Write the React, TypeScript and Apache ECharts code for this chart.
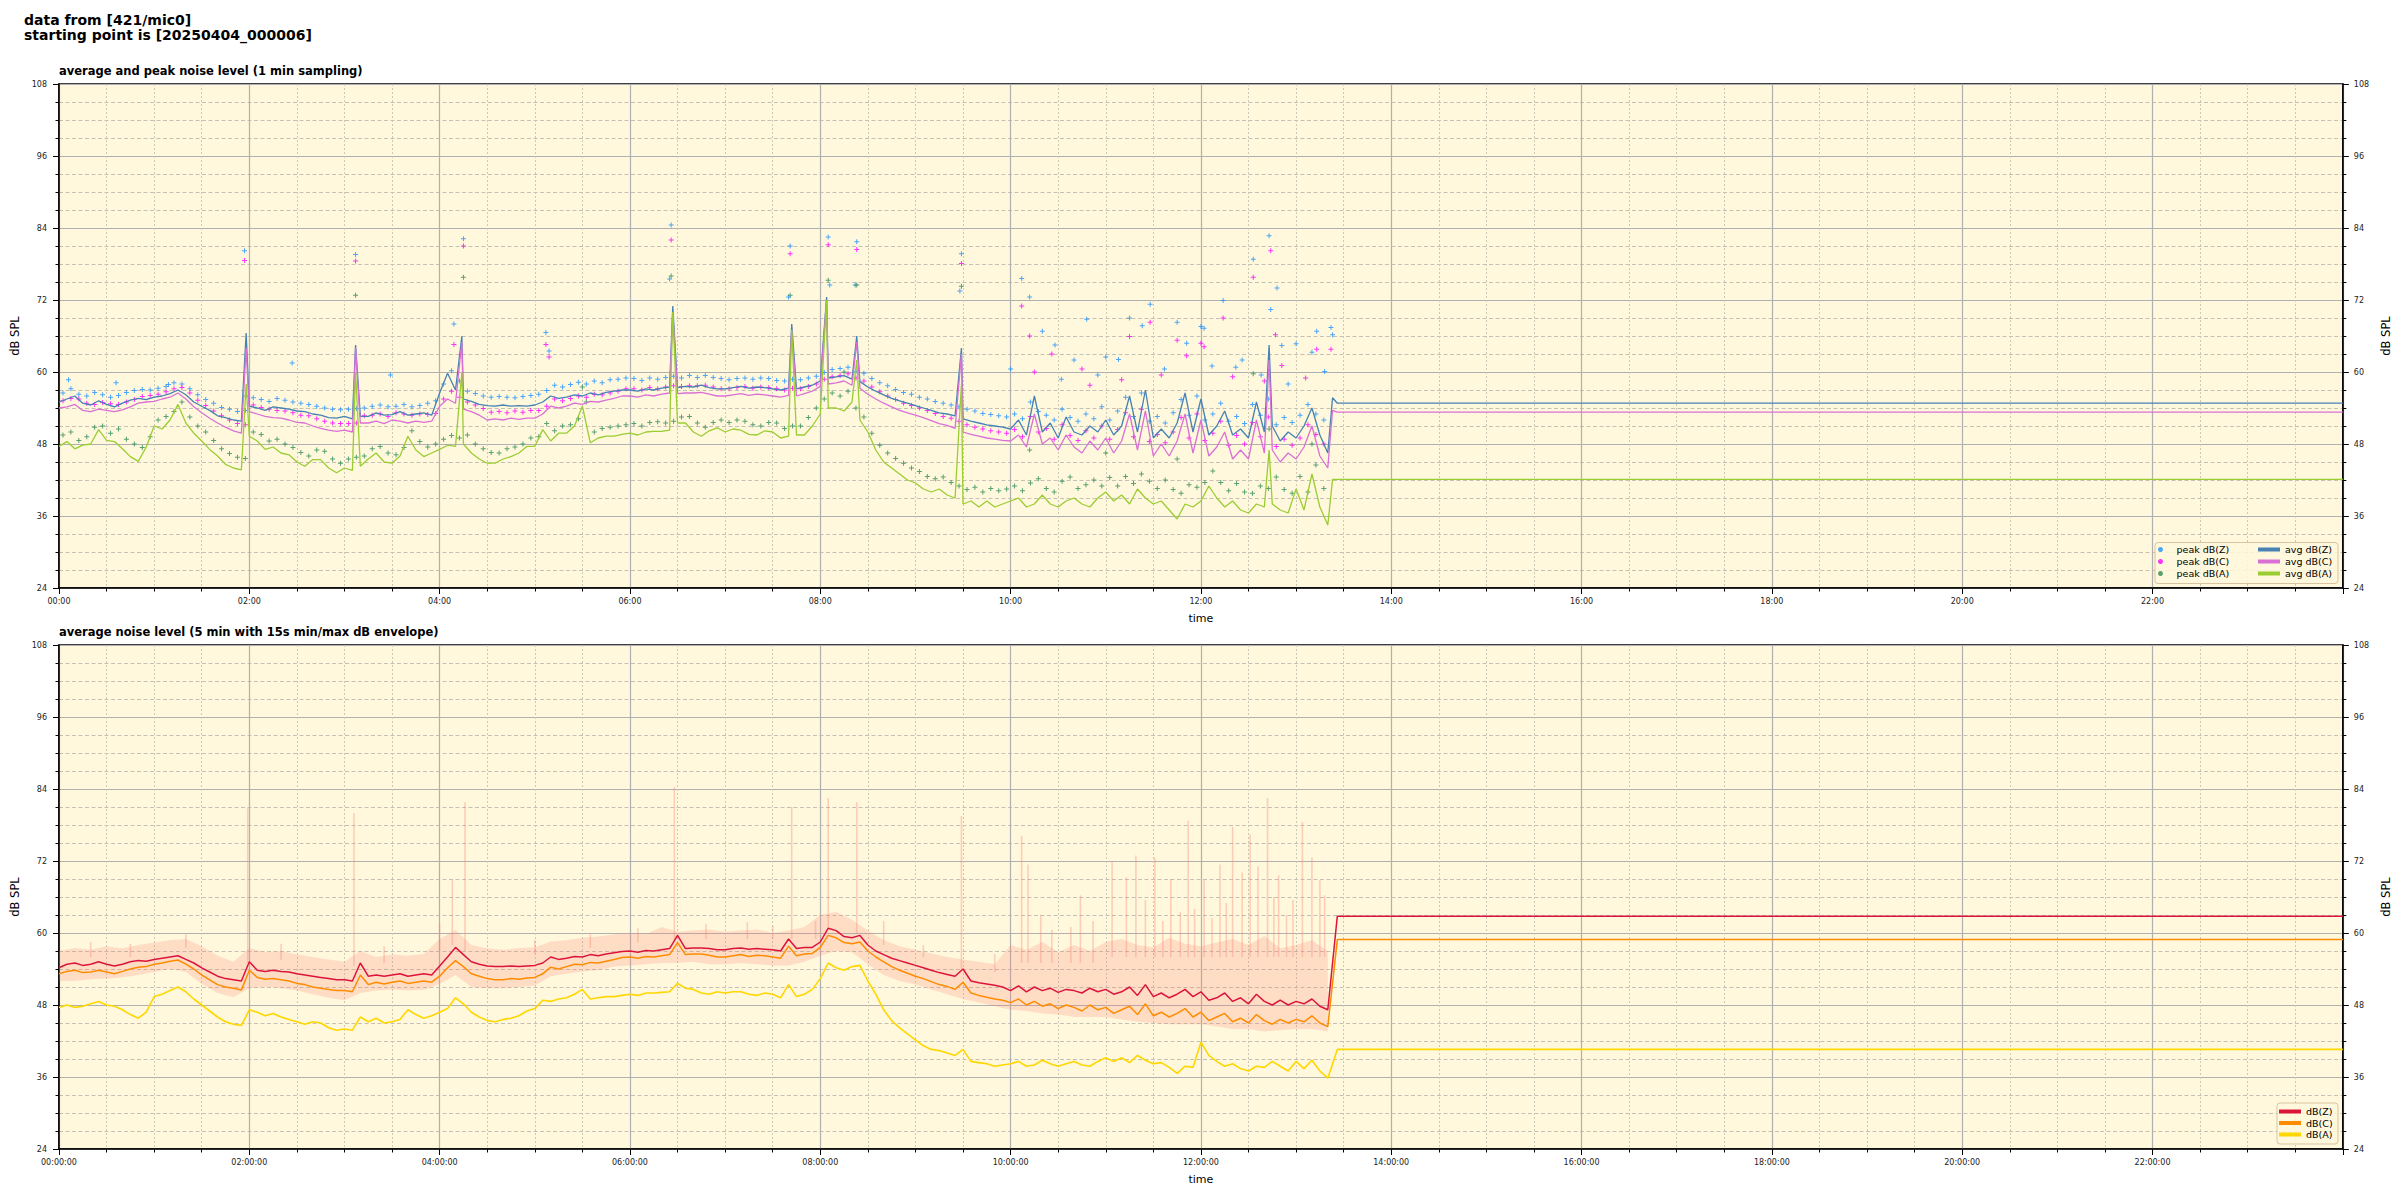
import React, { useEffect, useRef } from 'react';
import * as echarts from 'echarts';

const SUPTITLE = 'data from [421/mic0]\nstarting point is [20250404_000006]';
const TITLE_TOP = 'average and peak noise level (1 min sampling)';
const TITLE_BOTTOM = 'average noise level (5 min with 15s min/max dB envelope)';
const Y_NAME = 'dB SPL';
const X_NAME = 'time';

// sample times in minutes after midnight
const GRID_T = Array.from({ length: 161 }, (_, i) => i * 5);
const PEAK_T = Array.from({ length: 160 }, (_, i) => i * 5 + 2.5);
const ENV_T = Array.from({ length: 81 }, (_, i) => i * 10);

// ---------- top chart: 1-min averages (read at 5-min steps) ----------
const AVG_Z = [
  55.0, 55.5, 56.0, 54.8, 54.5, 55.2, 54.6, 54.2, 54.8, 55.3, 55.6, 55.4,
  55.8, 56.0, 56.4, 57.0, 56.2, 55.0, 54.3, 53.6, 52.7, 52.4, 52.0, 51.8,
  54.3, 54.0, 53.6, 54.2, 54.0, 53.8, 53.5, 53.4, 53.0, 52.8, 52.4, 52.3,
  52.6, 52.2, 52.6, 52.6, 53.2, 52.8, 52.9, 53.4, 52.8, 53.0, 53.2, 52.8,
  56.5, 59.8, 57.0, 55.5, 55.1, 54.6, 54.4, 54.3, 54.5, 54.3, 54.4, 54.3,
  54.5, 55.0, 56.0, 55.6, 55.8, 56.2, 56.0, 56.5, 56.2, 56.6, 56.8, 57.0,
  57.0, 56.8, 57.2, 57.0, 57.3, 57.5, 57.4, 57.6, 57.5, 57.8, 57.4, 57.2,
  57.2, 57.4, 57.6, 57.3, 57.5, 57.4, 57.2, 57.0, 57.3, 57.2, 57.5, 57.8,
  58.5, 59.0, 59.2, 59.4, 58.8, 58.4, 57.5, 56.8, 56.2, 55.6, 55.2, 54.8,
  54.4, 54.0, 53.6, 53.2, 53.0, 52.7, 52.2, 51.8, 51.5, 51.2, 51.0, 50.8,
  50.5, 52.0, 49.5, 56.0, 50.0, 51.5, 49.0, 52.5, 50.0, 49.5, 51.0, 50.0,
  52.0, 49.5, 51.0, 56.0, 50.0, 57.0, 49.0, 50.5, 49.0, 51.5, 56.5, 50.0,
  55.5, 49.5, 51.0, 53.5, 49.5, 50.5, 49.0, 55.0, 50.0, 51.0, 48.5, 50.0,
  49.0, 51.0, 54.0, 49.5, 46.5,
];
const AVG_C = [
  54.0, 54.2, 54.6, 53.6, 53.4, 53.8, 53.6, 53.4, 53.7, 54.2, 54.8, 55.0,
  55.1, 55.5, 55.8, 56.5, 55.5, 54.2, 53.2, 52.3, 51.5, 50.8, 50.2, 49.8,
  53.4, 53.0, 52.6, 52.4, 52.3, 52.0, 51.6, 51.5, 51.0, 50.6, 50.3, 50.1,
  50.3, 50.0, 51.5, 51.5, 51.8, 51.4, 52.0, 51.8, 51.5, 51.8, 51.6, 51.8,
  54.3, 55.5, 54.8, 53.8, 53.4, 52.8, 52.0, 52.2, 52.0, 52.3, 52.1, 52.3,
  52.3, 53.0, 54.3, 54.0, 54.3, 54.8, 54.6, 55.1, 55.0, 55.3, 55.6, 56.0,
  56.0, 55.8, 56.2, 56.0, 56.3, 56.5, 56.4, 56.5, 56.5, 56.6, 56.3, 56.0,
  56.0, 56.2, 56.4, 56.1, 56.3, 56.2, 56.0, 55.8, 56.1, 56.0, 56.4, 56.8,
  57.6, 58.0, 58.2, 58.5, 57.8, 57.3, 56.3, 55.5, 54.8, 54.2, 53.6, 53.2,
  52.8, 52.4, 51.9, 51.4, 51.1, 50.6, 50.0, 49.6, 49.3, 49.0, 48.8, 48.6,
  48.5, 49.5, 47.5, 53.0, 48.0, 49.0, 47.0, 49.5, 47.5, 46.5, 48.5, 47.0,
  49.0, 46.5, 48.5, 53.0, 47.0, 53.5, 46.0, 48.0, 46.0, 48.5, 53.0, 46.5,
  52.0, 46.0, 47.5, 50.0, 45.5, 47.0, 45.5, 52.0, 46.5, 47.0, 45.0, 46.5,
  45.5, 47.5, 51.0, 46.0, 44.0,
];
const AVG_A = [
  47.6, 48.4, 47.2, 47.8, 48.0, 50.4, 48.6, 48.4, 47.2, 45.9, 45.1, 47.5,
  51.0, 50.5, 52.0, 54.6, 51.5, 49.8, 48.5, 47.1, 46.0, 44.6, 44.0, 43.7,
  49.3, 48.5, 47.1, 47.5, 46.5, 46.2, 45.0, 44.3, 45.4, 45.4, 44.0, 43.2,
  44.0, 43.6, 44.3, 45.5, 46.5, 45.0, 44.8, 46.0, 49.3, 47.0, 45.9, 46.5,
  47.1, 47.8, 47.6, 48.0, 46.5, 45.5, 44.8, 44.8, 45.5, 45.9, 46.5, 47.6,
  47.6, 50.4, 48.5, 49.8, 49.8, 51.0, 54.3, 48.2, 49.0, 49.3, 49.3, 49.6,
  49.8, 49.5, 50.0, 50.1, 50.1, 50.3, 51.5, 51.5, 50.0, 49.3, 50.2, 50.7,
  50.0, 50.5, 50.3, 49.6, 49.5, 50.2, 50.0, 49.0, 49.3, 49.5, 49.5, 51.0,
  53.0, 54.0, 54.0, 53.5, 55.0, 52.0, 50.0, 47.0, 45.0, 44.0, 43.0, 42.0,
  41.5, 40.5, 40.0, 40.5, 39.5, 39.0, 38.0, 38.5, 37.5, 38.5, 37.5, 38.0,
  38.5, 39.0, 37.5, 38.0, 39.5, 38.0, 37.5, 38.5, 39.0, 38.0, 37.5, 39.0,
  40.0, 38.5, 39.5, 38.0, 40.5, 39.0, 38.0, 38.5, 37.0, 35.5, 38.0, 37.5,
  38.5, 41.0, 39.0, 37.5, 38.5, 37.0, 36.5, 38.0, 37.5, 38.0, 37.0, 36.5,
  40.5, 37.0, 43.0, 37.5, 34.5,
];
const SPIKE_T = [118, 187, 254, 387, 462, 484, 503, 569, 763];
const SPIKE_Z = [66.5, 64.5, 66.0, 71.0, 68.0, 72.5, 66.0, 64.0, 64.5];
const SPIKE_C = [64.0, 64.0, 65.0, 70.0, 67.0, 72.0, 65.0, 63.0, 62.0];
const SPIKE_A = [58.0, 60.0, 60.0, 70.0, 67.0, 72.0, 62.0, 58.0, 47.0];
const TAIL_T = [803, 806, 1440];
const TAIL_Z = [55.7, 54.8, 54.8];
const TAIL_C = [53.6, 53.3, 53.3];
const TAIL_A = [42.1, 42.1, 42.1];

// ---------- top chart: 1-min peaks ----------
const PEAK_Z = [
  56.5, 57.2, 56.3, 56.0, 56.6, 56.2, 55.8, 56.1, 56.6, 56.9, 57.1, 57.0,
  57.3, 57.6, 58.2, 58.0, 57.2, 56.2, 55.4, 54.8, 54.1, 53.8, 53.4, 53.6,
  55.7, 55.4, 55.1, 55.6, 55.3, 55.0, 54.8, 54.6, 54.3, 54.0, 53.8, 53.7,
  53.8, 53.9, 54.0, 54.3, 54.5, 54.2, 54.3, 54.6, 54.2, 54.4, 54.8, 55.2,
  58.0, 60.2, 58.5, 56.8, 56.4, 56.0, 55.8, 55.9, 55.8, 55.7, 55.9, 56.1,
  56.3, 56.9, 57.8, 57.5, 57.9, 58.3, 58.0, 58.5, 58.2, 58.7, 58.8, 59.0,
  58.9, 58.6, 59.0, 58.8, 59.1, 59.3, 59.0, 59.4, 59.1, 59.4, 59.1, 58.9,
  58.7, 58.9, 59.0, 58.8, 59.0, 58.9, 58.6, 58.5, 58.8, 58.7, 59.0, 59.3,
  59.9, 60.4, 60.6, 60.8, 60.1, 59.8, 58.9, 58.2, 57.7, 57.1, 56.6, 56.3,
  55.8, 55.5, 55.1, 54.8, 54.5, 54.2, 53.8, 53.5, 53.1, 52.9, 52.7, 52.5,
  53.0, 52.2, 55.0, 53.4, 52.8, 52.0, 53.8, 52.4, 51.8, 53.0, 52.2, 54.2,
  52.0, 53.5, 55.8, 52.6, 56.5, 51.8, 52.6, 51.5, 53.2, 55.4, 52.8, 56.0,
  52.0, 53.0, 54.8, 51.8, 52.6, 51.4, 54.6, 52.8, 55.5, 51.2, 52.4, 51.6,
  52.8, 54.6, 53.0, 52.0,
];
const PEAK_C = [
  55.2, 55.6, 55.5, 54.8, 54.6, 54.9, 54.7, 54.6, 55.0, 55.4, 55.9, 56.1,
  56.3, 56.7, 57.2, 57.4, 56.5, 55.3, 54.4, 53.5, 52.7, 52.0, 51.4, 51.2,
  54.5, 54.1, 53.8, 53.6, 53.5, 53.2, 52.8, 52.7, 52.2, 51.8, 51.5, 51.4,
  51.4, 51.5, 52.7, 52.8, 53.0, 52.6, 53.2, 53.0, 52.8, 53.0, 52.9, 53.1,
  55.5, 56.8, 55.8, 55.0, 54.5, 53.9, 53.3, 53.4, 53.2, 53.5, 53.3, 53.6,
  53.6, 54.3, 55.5, 55.2, 55.6, 56.0, 55.8, 56.3, 56.2, 56.5, 56.8, 57.2,
  57.2, 57.0, 57.4, 57.2, 57.5, 57.7, 57.6, 57.7, 57.7, 57.8, 57.5, 57.2,
  57.2, 57.4, 57.6, 57.3, 57.5, 57.4, 57.2, 57.0, 57.3, 57.2, 57.6, 58.0,
  58.8, 59.2, 59.4, 59.7, 59.0, 58.5, 57.5, 56.7, 56.0, 55.4, 54.8, 54.4,
  54.0, 53.6, 53.1, 52.6, 52.3, 51.8, 51.2, 50.8, 50.5, 50.2, 50.0, 49.8,
  50.4, 49.2, 52.6, 50.0, 50.6, 48.8, 51.2, 49.4, 48.6, 50.2, 49.0, 51.0,
  48.8, 50.4, 53.2, 49.2, 53.8, 48.4, 49.6, 48.2, 50.0, 52.4, 49.0, 53.0,
  48.6, 49.8, 51.8, 47.8, 49.4, 48.0, 51.6, 49.2, 52.5, 47.6, 48.8, 47.8,
  49.0, 51.2, 49.6, 48.0,
];
const PEAK_A = [
  49.5, 50.0, 48.6, 49.2, 50.8, 51.0, 49.8, 50.5, 48.8, 48.0, 47.4, 49.2,
  52.0, 52.6, 53.4, 55.0, 52.5, 51.0, 50.0, 48.6, 47.2, 46.4, 45.8, 45.6,
  50.0, 49.6, 48.5, 48.8, 48.0, 47.4, 46.6, 46.0, 47.0, 46.8, 45.5, 44.8,
  45.5, 45.8, 46.0, 47.2, 47.6, 46.5, 46.2, 47.4, 50.2, 48.4, 47.5, 48.0,
  48.8, 49.4, 49.0, 49.5, 48.0, 47.2, 46.6, 46.5, 47.2, 47.5, 48.0, 49.0,
  49.2, 51.4, 50.2, 51.0, 51.2, 52.2, 55.0, 50.0, 50.6, 50.8, 51.0, 51.2,
  51.4, 51.0, 51.6, 51.7, 51.5, 51.8, 52.5, 52.6, 51.5, 50.8, 51.6, 52.0,
  51.6, 52.0, 51.8, 51.2, 51.0, 51.6, 51.5, 50.6, 51.0, 51.0, 52.4, 54.0,
  55.5, 56.5, 56.0, 56.8, 54.0, 52.5, 49.8, 47.8, 46.5, 45.6, 44.8, 44.0,
  43.4, 42.6, 42.2, 42.5, 41.6, 41.0, 40.4, 40.8, 40.0, 40.6, 40.2, 40.5,
  41.0, 40.2, 41.5, 42.2, 40.6, 40.0, 41.8, 42.5, 40.6, 41.2, 42.0, 41.0,
  42.4, 41.0, 42.6, 41.4, 43.0, 41.8, 40.6, 42.0, 40.4, 39.8, 41.2, 40.8,
  41.6, 43.5, 41.6, 40.2, 41.4, 40.0, 39.8, 41.0, 40.6, 42.5, 40.4, 39.8,
  42.6, 40.0, 44.5, 40.6,
];
const OUT_Z = [
  [6, 58.7], [36, 58.2], [69, 57.9], [117, 80.2], [147, 61.5], [187, 79.6], [209, 59.5], [249, 68.0],
  [255, 82.2], [307, 66.6], [309, 63.5], [386, 84.5], [385, 75.5], [461, 81.0], [460, 72.5], [485, 82.5],
  [486, 74.5], [503, 81.7], [502, 74.5], [569, 79.7], [568, 73.5], [600, 60.5], [607, 75.6], [612, 72.5],
  [620, 66.8], [628, 64.5], [632, 58.8], [640, 62.0], [648, 68.8], [655, 59.5], [660, 62.5], [668, 62.1],
  [675, 69.0], [683, 67.7], [688, 71.3], [697, 60.5], [705, 68.3], [711, 64.8], [720, 67.6], [722, 67.3],
  [727, 61.0], [734, 71.9], [742, 60.8], [746, 62.0], [753, 78.8], [758, 59.5], [763, 82.7], [764, 70.4],
  [768, 74.0], [771, 64.4], [775, 58.0], [780, 64.7], [790, 63.3], [793, 66.8], [798, 60.1], [802, 67.4],
  [803, 66.2],
];
const OUT_C = [
  [117, 78.6], [187, 78.5], [255, 81.0], [249, 64.6], [307, 64.6], [309, 62.5], [386, 82.0], [461, 79.7],
  [485, 81.2], [503, 80.4], [569, 78.1], [607, 71.0], [612, 66.0], [615, 60.0], [626, 63.0], [645, 60.5],
  [650, 57.8], [670, 58.7], [675, 65.9], [688, 68.3], [695, 59.5], [705, 65.3], [711, 62.7], [720, 64.8],
  [722, 64.2], [734, 69.0], [740, 59.2], [753, 75.8], [760, 58.5], [764, 80.2], [767, 66.2], [771, 61.1],
  [786, 59.0], [793, 63.8], [802, 63.8],
];
const OUT_A = [
  [118, 56.0], [187, 72.8], [255, 75.8], [330, 57.5], [386, 76.0], [461, 72.8], [485, 75.3], [495, 60.0],
  [503, 74.5], [569, 74.3], [612, 47.0], [660, 46.5], [705, 45.5], [753, 59.7], [763, 50.5], [790, 48.0],
];

// ---------- bottom chart: 5-min averages ----------
const BOT_Z = [
  54.2, 54.8, 55.0, 54.6, 54.8, 55.2, 54.8, 54.5, 54.8, 55.2, 55.4, 55.3,
  55.6, 55.8, 56.0, 56.2, 55.6, 55.0, 54.2, 53.5, 52.8, 52.4, 52.2, 52.0,
  55.2, 53.8, 53.6, 53.8, 53.6, 53.5, 53.2, 53.0, 52.8, 52.6, 52.4, 52.2,
  52.2, 52.0, 55.0, 52.8, 53.0, 52.8, 53.0, 53.2, 52.8, 53.0, 53.2, 53.0,
  54.5, 56.0, 57.6, 56.4, 55.2, 54.8, 54.5, 54.4, 54.4, 54.5, 54.4, 54.5,
  54.6, 55.0, 56.0, 55.6, 55.8, 56.1, 56.0, 56.4, 56.2, 56.5, 56.7, 56.9,
  57.0, 56.8, 57.1, 57.0, 57.2, 57.4, 59.6, 57.4, 57.5, 57.5, 57.4, 57.2,
  57.2, 57.4, 57.5, 57.3, 57.4, 57.3, 57.2, 57.0, 59.0, 57.4, 57.6, 57.6,
  58.5, 60.8, 60.4, 59.4, 59.2, 59.6, 58.0, 57.0, 56.4, 55.8, 55.4, 55.0,
  54.6, 54.2, 53.8, 53.4, 53.1, 52.8, 54.0, 52.0, 51.7, 51.5, 51.3, 51.0,
  50.4, 51.2, 50.2, 51.0, 50.4, 50.8, 50.1, 50.6, 50.4, 50.0, 50.8, 50.2,
  50.6, 49.8, 50.2, 51.0, 49.6, 51.4, 49.4, 50.0, 49.2, 49.8, 50.6, 49.4,
  50.2, 48.8, 49.2, 50.0, 48.6, 49.2, 48.2, 49.8, 48.6, 48.0, 48.8, 48.0,
  48.6, 48.2, 49.0, 47.8, 47.2,
];
const BOT_C = [
  53.2, 53.6, 53.8, 53.4, 53.5, 53.8, 53.5, 53.2, 53.6, 54.0, 54.3, 54.4,
  54.8, 55.0, 55.3, 55.5, 54.8, 54.0, 53.0, 52.2, 51.4, 51.0, 50.8, 50.5,
  53.8, 52.6, 52.3, 52.4, 52.2, 52.0, 51.6, 51.4, 51.0, 50.8, 50.6, 50.4,
  50.4, 50.2, 53.0, 51.4, 51.8, 51.5, 51.8, 52.0, 51.6, 51.8, 52.0, 51.8,
  52.8, 54.2, 55.4, 54.4, 53.2, 52.8, 52.4, 52.2, 52.2, 52.4, 52.3, 52.5,
  52.6, 53.2, 54.3, 54.0, 54.4, 54.8, 54.7, 55.1, 55.0, 55.3, 55.6, 55.9,
  56.0, 55.8, 56.1, 56.0, 56.2, 56.4, 58.4, 56.4, 56.5, 56.5, 56.3, 56.0,
  56.0, 56.2, 56.4, 56.1, 56.3, 56.2, 56.0, 55.8, 57.8, 56.2, 56.5, 56.6,
  57.6, 59.6, 59.2, 58.4, 58.2, 58.5, 57.0, 56.0, 55.2, 54.4, 53.8, 53.3,
  52.8, 52.4, 51.9, 51.4, 51.1, 50.6, 51.8, 50.0, 49.6, 49.3, 49.0, 48.8,
  48.4, 49.0, 48.0, 48.6, 47.8, 48.2, 47.4, 48.0, 47.6, 47.0, 48.0, 47.2,
  47.6, 46.6, 47.2, 47.8, 46.4, 48.2, 46.2, 46.8, 46.0, 46.6, 47.4, 46.0,
  46.8, 45.4, 46.0, 46.6, 45.2, 45.8, 45.0, 46.4, 45.4, 44.8, 45.6, 45.0,
  45.6, 45.2, 46.2, 45.0, 44.4,
];
const BOT_A = [
  47.6, 48.0, 47.6, 47.8, 48.2, 48.6, 48.0, 47.8, 47.2, 46.4, 45.8, 46.8,
  49.4, 49.8, 50.4, 51.0, 50.2, 49.0, 48.0, 47.0, 46.0, 45.2, 44.8, 44.6,
  47.2, 46.8, 46.2, 46.6, 46.0, 45.6, 45.2, 44.8, 45.2, 45.0, 44.2, 43.8,
  44.0, 43.8, 46.0, 45.2, 45.8, 45.0, 45.2, 45.6, 47.2, 46.4, 45.8, 46.2,
  46.8, 47.4, 49.2, 48.2, 46.8, 46.0, 45.4, 45.2, 45.6, 45.8, 46.2, 47.0,
  47.4, 48.8, 48.6, 49.0, 49.2, 49.8, 50.6, 49.0, 49.2, 49.4, 49.4, 49.6,
  49.8, 49.6, 50.0, 50.0, 50.1, 50.2, 51.6, 50.8, 50.6, 50.0, 49.8, 50.2,
  50.0, 50.2, 50.2, 49.8, 49.6, 50.0, 49.8, 49.2, 51.4, 49.4, 49.8, 50.6,
  52.4, 55.0, 54.2, 53.8, 54.4, 54.6, 52.0, 49.8, 47.2, 45.4, 44.2, 43.2,
  42.2, 41.2, 40.6, 40.4, 40.0, 39.6, 40.6, 38.6, 38.4, 38.2, 37.8, 38.0,
  38.2, 38.6, 37.8, 38.0, 38.8, 38.2, 37.8, 38.2, 38.6, 38.0, 37.8, 38.6,
  39.2, 38.6, 39.2, 38.4, 39.6, 38.8, 38.2, 38.4, 37.6, 36.6, 37.8, 37.6,
  41.8, 39.6, 38.6, 37.8, 38.2, 37.4, 37.0, 37.8, 37.6, 38.6, 37.8, 37.0,
  38.6, 37.4, 38.8, 37.0, 35.8,
];
const BOT_TAIL_T = [806, 1440];
const BOT_TAIL_Z = [62.8, 62.8];
const BOT_TAIL_C = [58.9, 58.9];
const BOT_TAIL_A = [40.6, 40.6];

// 15 s min/max envelope (10-min steps) and its narrow excursions [t, from, to]
const ENV_LO = [
  52.0, 52.0, 52.3, 52.4, 52.6, 53.0, 53.5, 54.0, 53.5, 51.5, 50.0, 49.3,
  50.8, 51.0, 50.8, 50.4, 49.8, 49.2, 48.8, 50.0, 50.4, 50.6, 50.4, 50.5,
  51.5, 53.0, 51.0, 50.8, 50.8, 51.0, 51.2, 52.8, 53.2, 53.6, 53.8, 54.4,
  54.6, 54.8, 55.0, 55.0, 55.2, 54.8, 54.8, 55.0, 54.8, 54.6, 54.6, 55.2,
  56.2, 57.0, 56.8, 54.8, 53.0, 52.0, 51.4, 50.6, 49.8, 49.0, 48.4, 47.8,
  47.2, 47.0, 46.6, 46.4, 46.0, 46.0, 46.0, 45.6, 45.2, 45.0, 44.8, 44.8,
  44.8, 44.4, 44.0, 44.0, 43.6, 43.8, 44.0, 44.0, 43.6,
];
const ENV_HI = [
  57.0, 57.5, 57.2, 57.8, 57.4, 58.0, 58.4, 58.8, 59.0, 57.8, 56.2, 55.2,
  57.5, 56.8, 57.0, 56.4, 56.0, 55.6, 55.2, 57.0, 56.0, 56.4, 56.2, 56.5,
  59.0, 60.5, 58.0, 57.4, 57.2, 57.5, 57.6, 58.6, 58.8, 59.2, 59.4, 59.8,
  60.0, 59.8, 61.0, 60.2, 60.4, 60.6, 60.2, 60.4, 60.6, 60.0, 60.4, 61.0,
  63.0, 63.5, 62.2, 60.4, 58.8, 57.8, 57.2, 56.6, 56.0, 55.6, 55.2, 54.8,
  58.0, 57.2, 58.5, 56.8, 58.0, 57.0, 58.5, 59.0, 58.0, 57.6, 59.2, 58.2,
  57.8, 58.4, 59.0, 58.0, 59.5, 57.4, 58.0, 58.8, 57.0,
];
const ENV_SPIKES = [
  [20, 56, 58.5], [45, 56, 58.2], [80, 57.5, 59.8], [119, 55, 80.8], [140, 55.5, 58.2], [186, 54.5, 80.0],
  [205, 55, 57.8], [240, 57, 61.5], [248, 58, 68.8], [256, 57, 81.8], [300, 56.5, 58.8], [335, 57.5, 59.8],
  [365, 58.5, 60.8], [388, 59, 84.3], [408, 59, 61.5], [434, 59, 61.8], [450, 59, 61.2], [462, 59, 81.0],
  [477, 59, 62.0], [485, 61, 82.5], [503, 60, 81.8], [520, 58, 62.0], [545, 56, 58.0], [569, 54, 79.5],
  [590, 53.5, 56.5], [607, 55, 76.2], [611, 55, 71.4], [619, 55, 63.0], [626, 55, 60.5], [638, 55, 61.0],
  [644, 55, 66.3], [652, 55, 62.0], [664, 56, 71.9], [673, 56, 69.3], [679, 56, 72.9], [685, 56, 65.5],
  [691, 56, 72.6], [696, 56, 62.0], [701, 56, 69.0], [707, 56, 63.5], [712, 56, 78.7], [716, 56, 64.0],
  [722, 56, 68.8], [727, 56, 62.5], [732, 56, 71.4], [736, 56, 65.0], [740, 56, 77.7], [746, 56, 70.1],
  [751, 56, 76.4], [756, 56, 71.1], [762, 56, 82.5], [766, 56, 66.0], [769, 56, 69.6], [774, 56, 63.0],
  [778, 56, 65.5], [784, 56, 78.5], [790, 56, 72.6], [795, 56, 68.8], [798, 56, 66.3],
];

const FONT = 'DejaVu Sans';
const pad = (n: number) => (n < 10 ? '0' + n : '' + n);
const pairs = (ts: number[], vs: number[]) => ts.map((t, i) => [t, vs[i]]);
function lineData(vals: number[], spikes: number[] | null, tailT: number[], tailV: number[]) {
  const pts = pairs(GRID_T, vals).concat(spikes ? pairs(SPIKE_T, spikes) : []);
  pts.sort((a, b) => a[0] - b[0]);
  return pts.concat(pairs(tailT, tailV));
}
const PLUS = 'path://M2,0H3V2H5V3H3V5H2V3H0V2H2Z';

function xAxisFor(grid: number, withSeconds: boolean): any {
  return {
    type: 'value', gridIndex: grid, min: 0, max: 1440, interval: 120,
    axisLine: { show: true, onZero: false, lineStyle: { color: '#000', width: 1.5 } },
    axisTick: { show: true, length: 6, lineStyle: { color: '#000', width: 1 } },
    minorTick: { show: true, splitNumber: 4, length: 3.5, lineStyle: { color: '#000', width: 1 } },
    splitLine: { show: true, lineStyle: { color: '#b0b0b0', width: 1.2 } },
    minorSplitLine: { show: true, lineStyle: { color: '#cdc8b8', width: 1, type: [2, 2] } },
    axisLabel: {
      fontSize: 8, color: '#222', fontFamily: FONT, margin: 9, showMaxLabel: false,
      formatter: (v: number) => {
        if (v % 120 !== 0 || v >= 1440) return '';
        const s = pad(Math.floor(v / 60)) + ':' + pad(v % 60);
        return withSeconds ? s + ':00' : s;
      },
    },
    name: X_NAME, nameLocation: 'middle', nameGap: 25,
    nameTextStyle: { fontSize: 11, color: '#000', fontFamily: FONT },
  };
}
function yAxisFor(grid: number, right: boolean): any {
  return {
    type: 'value', gridIndex: grid, min: 24, max: 108, interval: 12,
    position: right ? 'right' : 'left',
    axisLine: { show: true, lineStyle: { color: '#000', width: 1.5 } },
    axisTick: { show: true, length: 6, lineStyle: { color: '#000', width: 1 } },
    minorTick: { show: true, splitNumber: 4, length: 3.5, lineStyle: { color: '#000', width: 1 } },
    splitLine: { show: !right, lineStyle: { color: '#b0b0b0', width: 1.2 } },
    minorSplitLine: { show: !right, lineStyle: { color: '#c4c0b4', width: 1, type: [4, 2.5] } },
    axisLabel: { fontSize: 8, color: '#222', fontFamily: FONT, margin: right ? 11 : 12 },
    name: Y_NAME, nameLocation: 'middle', nameRotate: 90, nameGap: right ? 30 : 33,
    nameTextStyle: { fontSize: 11.5, color: '#000', fontFamily: FONT },
  };
}

export default function App() {
  const ref = useRef<HTMLDivElement>(null);
  useEffect(() => {
    if (!ref.current) return;
    const chart = echarts.init(ref.current, null, { renderer: 'svg' });
    const envData = ENV_T.map((t, i) => [t, ENV_LO[i], ENV_HI[i]]);
    const gridBox = { show: true, backgroundColor: '#fff8dc', borderColor: '#000', borderWidth: 1.5, left: 59, right: 57, height: 504, containLabel: false };
    const legendText = { fontSize: 9.5, color: '#000', fontFamily: FONT, lineHeight: 12 };
    const option: any = {
      animation: false,
      backgroundColor: '#ffffff',
      textStyle: { fontFamily: FONT },
      title: [
        { text: SUPTITLE, left: 24, top: 12, padding: 0, textStyle: { fontSize: 14, fontWeight: 'bold', color: '#000', fontFamily: FONT, lineHeight: 15.5 } },
        { text: TITLE_TOP, left: 59, top: 65, padding: 0, textStyle: { fontSize: 11.5, fontWeight: 'bold', color: '#000', fontFamily: FONT } },
        { text: TITLE_BOTTOM, left: 59, top: 626, padding: 0, textStyle: { fontSize: 11.5, fontWeight: 'bold', color: '#000', fontFamily: FONT } },
      ],
      grid: [
        { ...gridBox, top: 84 },
        { ...gridBox, top: 645 },
      ],
      xAxis: [xAxisFor(0, false), xAxisFor(1, true)],
      yAxis: [yAxisFor(0, false), yAxisFor(0, true), yAxisFor(1, false), yAxisFor(1, true)],
      graphic: [
        { type: 'rect', z: 3, shape: { x: 2155, y: 542.5, width: 183, height: 41, r: 3 }, style: { fill: 'rgba(255,248,220,0.85)', stroke: '#d9c3a0', lineWidth: 1 } },
        { type: 'rect', z: 3, shape: { x: 2277, y: 1103, width: 61, height: 41, r: 3 }, style: { fill: 'rgba(255,248,220,0.85)', stroke: '#d9c3a0', lineWidth: 1 } },
      ],
      legend: [
        {
          orient: 'vertical', left: 2158, top: 543.5, padding: 0, itemGap: 0, itemWidth: 22, itemHeight: 5,
          selectedMode: false, textStyle: legendText, z: 5,
          data: [
            { name: 'peak dB(Z)', icon: 'circle' },
            { name: 'peak dB(C)', icon: 'circle' },
            { name: 'peak dB(A)', icon: 'circle' },
          ],
        },
        {
          orient: 'vertical', left: 2258, top: 543.5, padding: 0, itemGap: 0, itemWidth: 22, itemHeight: 4,
          selectedMode: false, textStyle: legendText, icon: 'rect', z: 5,
          data: ['avg dB(Z)', 'avg dB(C)', 'avg dB(A)'],
        },
        {
          orient: 'vertical', left: 2279, top: 1105.5, padding: 0, itemGap: -0.5, itemWidth: 22, itemHeight: 4,
          selectedMode: false, textStyle: legendText, icon: 'rect', z: 5,
          data: ['dB(Z)', 'dB(C)', 'dB(A)'],
        },
      ],
      series: [
        {
          name: 'peak dB(Z)', type: 'scatter', xAxisIndex: 0, yAxisIndex: 0, symbol: PLUS, symbolSize: 5, z: 2,
          itemStyle: { color: '#1e90ff' }, data: pairs(PEAK_T, PEAK_Z).concat(OUT_Z),
        },
        {
          name: 'peak dB(C)', type: 'scatter', xAxisIndex: 0, yAxisIndex: 0, symbol: PLUS, symbolSize: 5, z: 2,
          itemStyle: { color: '#ff00ff' }, data: pairs(PEAK_T, PEAK_C).concat(OUT_C),
        },
        {
          name: 'peak dB(A)', type: 'scatter', xAxisIndex: 0, yAxisIndex: 0, symbol: PLUS, symbolSize: 5, z: 2,
          itemStyle: { color: '#2e8b57' }, data: pairs(PEAK_T, PEAK_A).concat(OUT_A),
        },
        {
          name: 'avg dB(Z)', type: 'line', xAxisIndex: 0, yAxisIndex: 0, symbol: 'none', z: 3,
          itemStyle: { color: '#4682b4' }, lineStyle: { color: '#4682b4', width: 1.3 },
          data: lineData(AVG_Z, SPIKE_Z, TAIL_T, TAIL_Z),
        },
        {
          name: 'avg dB(C)', type: 'line', xAxisIndex: 0, yAxisIndex: 0, symbol: 'none', z: 3,
          itemStyle: { color: '#da70d6' }, lineStyle: { color: '#da70d6', width: 1.3 },
          data: lineData(AVG_C, SPIKE_C, TAIL_T, TAIL_C),
        },
        {
          name: 'avg dB(A)', type: 'line', xAxisIndex: 0, yAxisIndex: 0, symbol: 'none', z: 3,
          itemStyle: { color: '#9acd32' }, lineStyle: { color: '#9acd32', width: 1.3 },
          data: lineData(AVG_A, SPIKE_A, TAIL_T, TAIL_A),
        },
        {
          name: 'envelope', type: 'custom', xAxisIndex: 1, yAxisIndex: 2, silent: true, z: 1,
          data: envData, encode: { x: 0, y: [1, 2] },
          renderItem: (params: any, api: any) => {
            if (params.dataIndex !== 0) return null;
            const up = envData.map((d) => api.coord([d[0], d[2]]));
            const dn = envData.map((d) => api.coord([d[0], d[1]])).reverse();
            return { type: 'polygon', shape: { points: up.concat(dn) }, style: { fill: 'rgba(250,128,114,0.22)' } };
          },
        },
        {
          name: 'envelope spikes', type: 'custom', xAxisIndex: 1, yAxisIndex: 2, silent: true, z: 1,
          data: ENV_SPIKES, encode: { x: 0, y: [1, 2] },
          renderItem: (params: any, api: any) => {
            const a = api.coord([api.value(0), api.value(1)]);
            const b = api.coord([api.value(0), api.value(2)]);
            return { type: 'line', shape: { x1: a[0], y1: a[1], x2: b[0], y2: b[1] }, style: { stroke: 'rgba(250,128,114,0.35)', lineWidth: 1.6 } };
          },
        },
        {
          name: 'dB(A)', type: 'line', xAxisIndex: 1, yAxisIndex: 2, symbol: 'none', z: 3,
          itemStyle: { color: '#ffd700' }, lineStyle: { color: '#ffd700', width: 1.6 },
          data: lineData(BOT_A, null, BOT_TAIL_T, BOT_TAIL_A),
        },
        {
          name: 'dB(C)', type: 'line', xAxisIndex: 1, yAxisIndex: 2, symbol: 'none', z: 3,
          itemStyle: { color: '#ff8c00' }, lineStyle: { color: '#ff8c00', width: 1.5 },
          data: lineData(BOT_C, null, BOT_TAIL_T, BOT_TAIL_C),
        },
        {
          name: 'dB(Z)', type: 'line', xAxisIndex: 1, yAxisIndex: 2, symbol: 'none', z: 4,
          itemStyle: { color: '#dc143c' }, lineStyle: { color: '#dc143c', width: 1.5 },
          data: lineData(BOT_Z, null, BOT_TAIL_T, BOT_TAIL_Z),
        },
      ],
    };
    chart.setOption(option);
    return () => chart.dispose();
  }, []);
  return (
    <div
      ref={ref}
      style={{ position: 'fixed', left: 0, top: 0, width: 2400, height: 1200, background: '#fff' }}
    />
  );
}
